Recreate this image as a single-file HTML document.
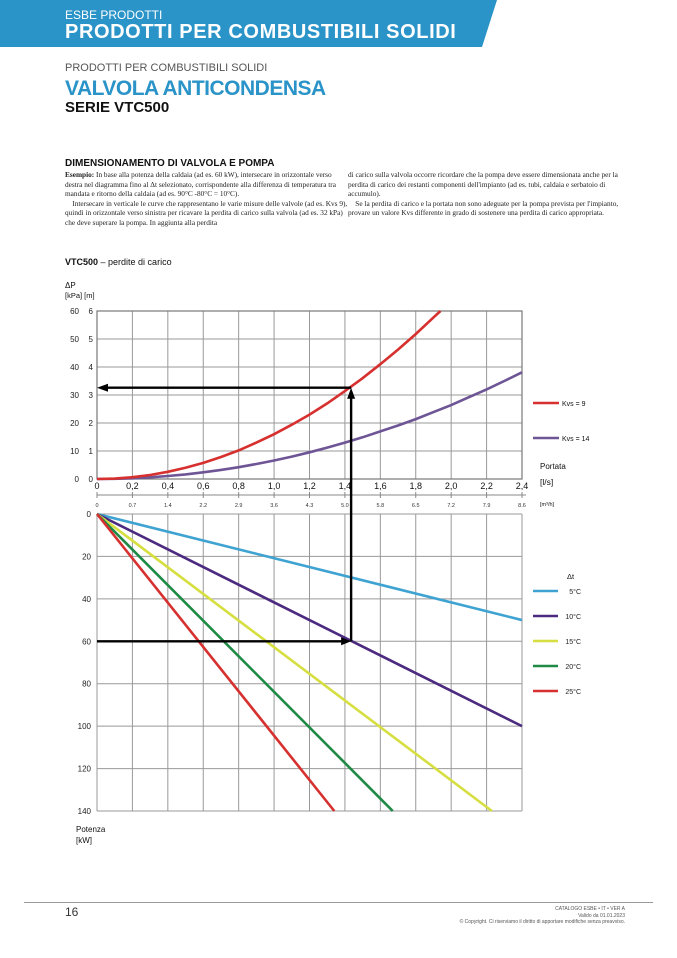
<!DOCTYPE html>
<html><head><meta charset="utf-8"><style>
body{margin:0;width:677px;height:958px;background:#fff;position:relative;overflow:hidden;font-family:"Liberation Sans",sans-serif}
.a{position:absolute;white-space:nowrap}
</style></head><body>
<svg class="a" style="left:0;top:0" width="677" height="50"><polygon points="0,0 497,0 482,47 0,47" fill="#2a93c8"/></svg>
<div class="a" style="left:65px;top:8px;color:#fff;font-size:12px">ESBE PRODOTTI</div>
<div class="a" style="left:65px;top:21px;color:#fff;font-size:20px;font-weight:900;letter-spacing:0.6px">PRODOTTI PER COMBUSTIBILI SOLIDI</div>
<div class="a" style="left:65px;top:62px;color:#555;font-size:11px">PRODOTTI PER COMBUSTIBILI SOLIDI</div>
<div class="a" style="left:65px;top:77px;color:#2a93c8;font-size:21px;font-weight:900;letter-spacing:-0.5px">VALVOLA ANTICONDENSA</div>
<div class="a" style="left:65px;top:99px;color:#111;font-size:15px;font-weight:900">SERIE VTC500</div>
<div class="a" style="left:65px;top:158px;color:#111;font-size:10px;font-weight:900">DIMENSIONAMENTO DI VALVOLA E POMPA</div>
<div class="a" style="left:65px;top:170px;width:285px;white-space:normal;font-family:'Liberation Serif',serif;font-size:7.3px;line-height:9.5px;color:#222"><b>Esempio:</b> In base alla potenza della caldaia (ad es. 60 kW), intersecare in orizzontale verso destra nel diagramma fino al Δt selezionato, corrispondente alla differenza di temperatura tra mandata e ritorno della caldaia (ad es. 90°C -80°C = 10°C).<br>&nbsp;&nbsp;&nbsp;&nbsp;Intersecare in verticale le curve che rappresentano le varie misure delle valvole (ad es. Kvs 9), quindi in orizzontale verso sinistra per ricavare la perdita di carico sulla valvola (ad es. 32 kPa) che deve superare la pompa. In aggiunta alla perdita</div>
<div class="a" style="left:348px;top:170px;width:282px;white-space:normal;font-family:'Liberation Serif',serif;font-size:7.3px;line-height:9.5px;color:#222">di carico sulla valvola occorre ricordare che la pompa deve essere dimensionata anche per la perdita di carico dei restanti componenti dell'impianto (ad es. tubi, caldaia e serbatoio di accumulo).<br>&nbsp;&nbsp;&nbsp;&nbsp;Se la perdita di carico e la portata non sono adeguate per la pompa prevista per l'impianto, provare un valore Kvs differente in grado di sostenere una perdita di carico appropriata.</div>
<div class="a" style="left:65px;top:257px;font-size:9px;color:#111"><b>VTC500</b> – perdite di carico</div>

<svg id="ch" class="a" style="left:0;top:0" width="677" height="958" font-family="Liberation Sans, sans-serif"></svg>

<div class="a" style="left:24px;top:902px;width:629px;height:1px;background:#999"></div>
<div class="a" style="left:65px;top:905px;font-size:12px;color:#333">16</div>
<div class="a" style="right:52px;top:906px;font-size:5px;line-height:6.5px;color:#555;text-align:right">CATALOGO ESBE • IT • VER A<br>Valido da 01.01.2023<br>© Copyright. Ci riserviamo il diritto di apportare modifiche senza preavviso.</div>

<script>
const flowTicks=["0","0,2","0,4","0,6","0,8","1,0","1,2","1,4","1,6","1,8","2,0","2,2","2,4"];
const m3hTicks=["0","0.7","1.4","2.2","2.9","3.6","4.3","5.0","5.8","6.5","7.2","7.9","8.6"];
const kpaTicks=[0,10,20,30,40,50,60];
const mTicks=[0,1,2,3,4,5,6];
const powerTicks=[0,20,40,60,80,100,120,140];
const curveFlow=[0,0.1,0.2,0.3,0.4,0.5,0.6,0.7,0.8,0.9,1.0,1.1,1.2,1.3,1.4,1.5,1.6,1.7,1.8,1.9,1.94,2.0,2.1,2.2,2.3,2.4];
const kvs9=[0,0.16,0.64,1.44,2.56,4.0,5.76,7.84,10.2,13.0,16.0,19.4,23.0,27.0,31.4,36.0,41.0,46.2,51.8,57.7,60,null,null,null,null,null];
const kvs14=[0,0.07,0.26,0.6,1.06,1.65,2.38,3.24,4.23,5.36,6.61,8.0,9.52,11.2,13.0,14.9,17.0,19.1,21.4,23.9,24.9,26.4,29.2,32.0,35.0,38.1];
const dtNames=["5°C","10°C","15°C","20°C","25°C"];
const dtColors=["#3fa3d2","#4b2a7f","#d6df3f","#1f8a45","#d6302f"];
const dtEndFlow=[2.4,2.4,2.23,1.67,1.34];
const dtEndPower=[50,100,140,140,140];
const exFlow=1.435, exPower=60, exDp=32.6;

const svg=document.getElementById('ch'),NS="http://www.w3.org/2000/svg";
function mk(t,a,name){const e=document.createElementNS(NS,t);for(const k in a)e.setAttribute(k,a[k]);


svg.appendChild(e);return e;}
const X0=97,X1=522;
const fx=f=>X0+(X1-X0)*f/2.4;
const ty=v=>479-v*(479-311)/60;
const by=v=>514+v*(811-514)/140;
for(let i=0;i<=12;i++){mk('line',{x1:fx(i*0.2),x2:fx(i*0.2),y1:311,y2:479,stroke:'#999','stroke-width':1},'top-grid-v');}
kpaTicks.forEach((v,i)=>{mk('line',{x1:X0,x2:X1,y1:ty(v),y2:ty(v),stroke:'#999','stroke-width':1},'top-grid-h');
const t=mk('text',{x:79,y:ty(v)+3,'font-size':8,'text-anchor':'end',fill:'#222'},'kpa-tick');t.textContent=v;
const t2=mk('text',{x:93,y:ty(v)+3,'font-size':8,'text-anchor':'end',fill:'#222'},'m-tick');t2.textContent=mTicks[i];});
mk('rect',{x:X0,y:311,width:X1-X0,height:168,fill:'none',stroke:'#777','stroke-width':1.2},'top-frame');
flowTicks.forEach((s,i)=>{const t=mk('text',{x:fx(i*0.2),y:489,'font-size':9,'text-anchor':'middle',fill:'#111'},'flow-tick');t.textContent=s;});
mk('line',{x1:X0,x2:X1+4,y1:495,y2:495,stroke:'#888'},'m3h-axis');
m3hTicks.forEach((s,i)=>{mk('line',{x1:fx(i*0.2),x2:fx(i*0.2),y1:492,y2:498,stroke:'#888'},'m3h-tick-mark');
const t=mk('text',{x:fx(i*0.2),y:507,'font-size':5.5,'text-anchor':'middle',fill:'#333'},'m3h-tick');t.textContent=s;});
function path(arr){let d='';curveFlow.forEach((f,i)=>{if(arr[i]==null)return;d+=(d?'L':'M')+fx(f).toFixed(1)+','+ty(arr[i]).toFixed(1);});return d;}
mk('path',{d:path(kvs14),fill:'none',stroke:'#6e5596','stroke-width':2.6},'kvs14-curve');
mk('path',{d:path(kvs9),fill:'none',stroke:'#d6302f','stroke-width':2.6},'kvs9-curve');
for(let i=0;i<=12;i++){mk('line',{x1:fx(i*0.2),x2:fx(i*0.2),y1:514,y2:811,stroke:'#999'},'bottom-grid-v');}
powerTicks.forEach(v=>{mk('line',{x1:X0,x2:X1,y1:by(v),y2:by(v),stroke:'#999'},'bottom-grid-h');
const t=mk('text',{x:91,y:by(v)+3,'font-size':8,'text-anchor':'end',fill:'#222'},'power-tick');t.textContent=v;});
dtNames.forEach((n,i)=>{mk('line',{x1:fx(0),y1:by(0),x2:fx(dtEndFlow[i]),y2:by(dtEndPower[i]),stroke:dtColors[i],'stroke-width':2.6},'dt-line-'+n);
const ly=591+i*25;mk('line',{x1:533,x2:558,y1:ly,y2:ly,stroke:dtColors[i],'stroke-width':2.5},'dt-legend-swatch');
const t=mk('text',{x:581,y:ly+3,'font-size':7,'text-anchor':'end',fill:'#222'},'dt-legend-label');t.textContent=n;});
const ax=fx(exFlow),ay=by(exPower),dy=ty(exDp);
mk('path',{d:`M${X0},${ay}H${ax-8}`,stroke:'#000','stroke-width':2.4,fill:'none'},'example-arrow-right');
mk('polygon',{points:`${ax},${ay} ${ax-10},${ay-4} ${ax-10},${ay+4}`,fill:'#000'},'arrowhead');
mk('path',{d:`M${ax},${ay}V${dy+10}`,stroke:'#000','stroke-width':2.4,fill:'none'},'example-arrow-up');
mk('polygon',{points:`${ax},${dy} ${ax-4},${dy+11} ${ax+4},${dy+11}`,fill:'#000'},'arrowhead');
mk('path',{d:`M${ax},${dy}H${X0+10}`,stroke:'#000','stroke-width':2.4,fill:'none'},'example-arrow-left');
mk('polygon',{points:`${X0},${dy} ${X0+11},${dy-4} ${X0+11},${dy+4}`,fill:'#000'},'arrowhead');
function txt(x,y,s,sz,name,w){const t=mk('text',{x:x,y:y,'font-size':sz,fill:'#111','font-weight':w||'normal'},name);t.textContent=s;}
txt(65,288,'ΔP',8,'y-axis-title');txt(65,298,'[kPa]  [m]',7.5,'y-axis-units');
txt(540,485,'[l/s]',8.5,'flow-unit');txt(540,469,'Portata',8,'x-axis-title');
txt(540,506,'[m³/h]',5.5,'m3h-unit');
txt(76,832,'Potenza',8,'power-title');txt(76,843,'[kW]',8,'power-unit');
txt(567,579,'Δt',7.5,'dt-legend-title');
mk('line',{x1:533,x2:559,y1:403,y2:403,stroke:'#d6302f','stroke-width':2.6},'kvs9-legend-swatch');
txt(562,406,'Kvs = 9',7,'kvs9-legend-label');
mk('line',{x1:533,x2:559,y1:438,y2:438,stroke:'#6e5596','stroke-width':2.6},'kvs14-legend-swatch');
txt(562,441,'Kvs = 14',7,'kvs14-legend-label');
</script>
</body></html>
